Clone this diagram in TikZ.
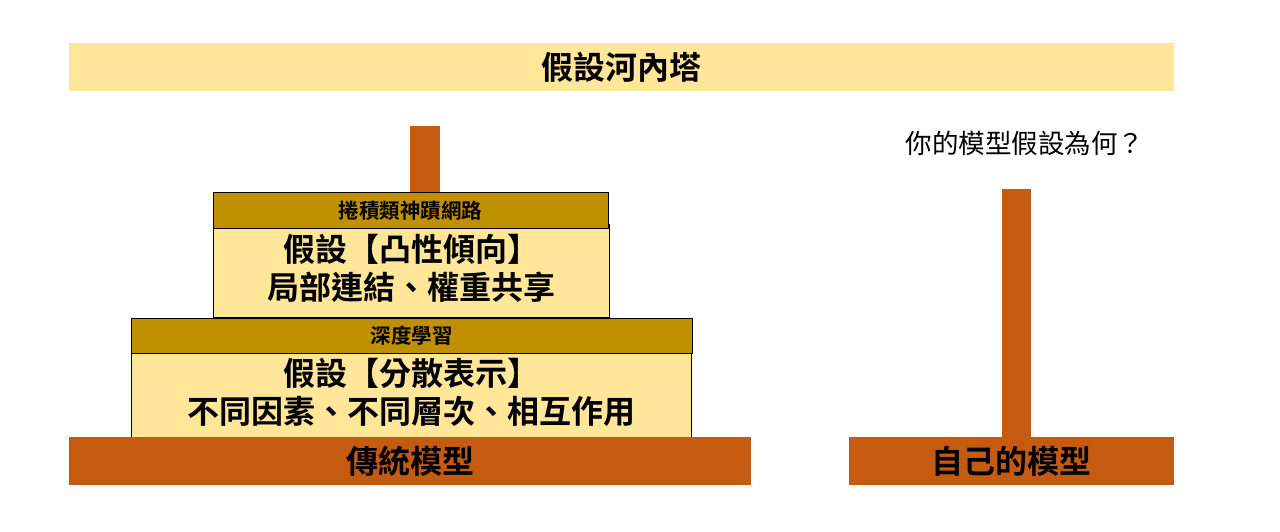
\documentclass[tikz,border=0pt]{standalone}
\usepackage{fontspec}
\setmainfont{Noto Sans CJK TC}[BoldFont=Noto Sans CJK TC Bold]
\definecolor{paleyellow}{HTML}{FFE699}
\definecolor{darkgold}{HTML}{BF9000}
\definecolor{rust}{HTML}{C55A11}
\begin{document}
\begin{tikzpicture}[x=1pt,y=1pt,
  box/.style={rectangle,inner sep=0pt,outer sep=0pt,anchor=south west},
  diskbody/.style={box,fill=paleyellow,draw=black,line width=1pt},
  diskbar/.style={box,fill=darkgold,draw=black,line width=1pt},
  base/.style={box,fill=rust},
  bigtext/.style={font=\fontsize{32}{38}\selectfont\bfseries,align=center},
  bartext/.style={font=\fontsize{20.5}{24}\selectfont\bfseries}]
  \useasboundingbox (0,0) rectangle (1280,531);
  % title band
  \node[box,fill=paleyellow,minimum width=1105,minimum height=48] (title) at (69,440) {};
  \node[font=\fontsize{32}{34}\selectfont\bfseries] (titletxt) at (title.center) {假設河內塔};
  % pegs
  \node[base,minimum width=30,minimum height=100] (pegL) at (410,305) {};
  \node[base,minimum width=29,minimum height=248] (pegR) at (1002,94) {};
  % lower disk
  \node[diskbody,minimum width=560,minimum height=84] (lowbody) at (131,94) {};
  \node[bigtext] (lowtxt) at (411,139) {假設【分散表示】\\不同因素、不同層次、相互作用};
  \node[diskbar,minimum width=561,minimum height=35] (lowbar) at (131,178) {};
  \node[bartext] (lowlbl) at (lowbar.center) {深度學習};
  % upper disk
  \node[diskbody,minimum width=396,minimum height=92] (topbody) at (213,214) {};
  \node[bigtext] (toptxt) at (411,262.5) {假設【凸性傾向】\\局部連結、權重共享};
  \node[diskbar,minimum width=395,minimum height=36] (topbar) at (213,302) {};
  \node[bartext] (toplbl) at (topbar.center) {捲積類神蹟網路};
  % bases
  \node[base,minimum width=682,minimum height=48] (baseL) at (69,46) {};
  \node[font=\fontsize{32}{34}\selectfont\bfseries] (baseLtxt) at (baseL.center) {傳統模型};
  \node[base,minimum width=325,minimum height=48] (baseR) at (849,46) {};
  \node[font=\fontsize{32}{34}\selectfont\bfseries] (baseRtxt) at (baseR.center) {自己的模型};
  % question
  \node[font=\fontsize{26.5}{30}\selectfont] (ask) at (1025,388) {你的模型假設為何？};
\end{tikzpicture}
\end{document}
